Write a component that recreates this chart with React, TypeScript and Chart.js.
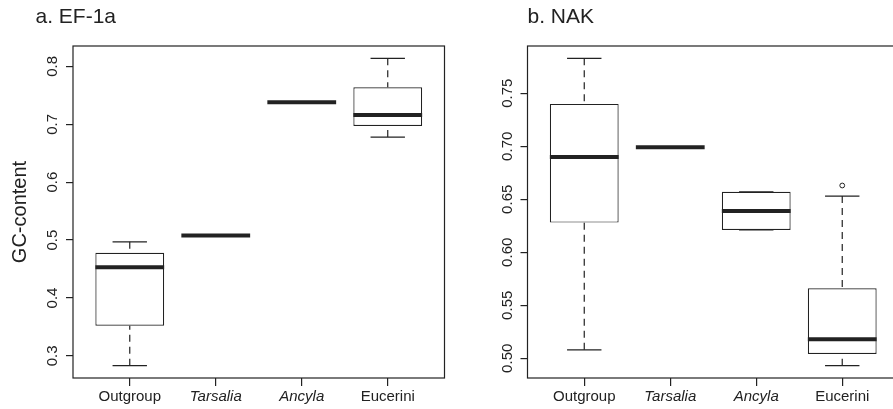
import React, { useEffect, useRef } from "react";
import { Chart, registerables } from "chart.js";

Chart.register(...registerables);

// ---------- data ----------
const categories = ["Outgroup", "Tarsalia", "Ancyla", "Eucerini"];
const italicCategories = [false, true, true, false];
const categoryPositions = [1, 2, 3, 4];

const panelTitles = ["a. EF-1a", "b. NAK"];
const yAxisTitle = "GC-content";

// a. EF-1a
const ef1aLowerWhisker = [0.283, 0.508, 0.738, 0.678];
const ef1aQ1 = [0.352, 0.508, 0.738, 0.697];
const ef1aMedian = [0.453, 0.508, 0.738, 0.716];
const ef1aQ3 = [0.478, 0.508, 0.738, 0.764];
const ef1aUpperWhisker = [0.497, 0.508, 0.738, 0.814];
const ef1aOutlierCategory: number[] = [];
const ef1aOutlierValue: number[] = [];
const ef1aYTicks = [0.3, 0.4, 0.5, 0.6, 0.7, 0.8];
const ef1aYTickLabels = ["0.3", "0.4", "0.5", "0.6", "0.7", "0.8"];

// b. NAK
const nakLowerWhisker = [0.508, 0.699, 0.621, 0.493];
const nakQ1 = [0.628, 0.699, 0.621, 0.504];
const nakMedian = [0.69, 0.699, 0.639, 0.518];
const nakQ3 = [0.74, 0.699, 0.657, 0.566];
const nakUpperWhisker = [0.783, 0.699, 0.657, 0.653];
const nakOutlierCategory = [3];
const nakOutlierValue = [0.663];
const nakYTicks = [0.5, 0.55, 0.6, 0.65, 0.7, 0.75];
const nakYTickLabels = ["0.50", "0.55", "0.60", "0.65", "0.70", "0.75"];

// ---------- style ----------
const FONT = '"Liberation Sans", Arial, Helvetica, sans-serif';
const INK = "#222222";

type Panel = {
  title: string;
  titleX: number;
  lw: number[];
  q1: number[];
  med: number[];
  q3: number[];
  uw: number[];
  outCat: number[];
  outVal: number[];
  yTicks: number[];
  yTickLabels: string[];
  yTitle: string | null;
  canvasWidth: number;
  yAxisWidth: number;
  padRight: number;
  yLabelPad: number;
};

function yRange(p: Panel) {
  const lo = Math.min(...p.lw, ...p.outVal);
  const hi = Math.max(...p.uw, ...p.outVal);
  const ext = (hi - lo) * 0.04;
  return [lo - ext, hi + ext];
}

function makePanelPlugin(p: Panel) {
  return {
    id: "rBoxplot",
    afterDatasetsDraw(chart: any) {
      const { ctx, chartArea: a, scales } = chart;
      const xs = scales.x;
      const ys = scales.y;
      const unit = xs.getPixelForValue(2) - xs.getPixelForValue(1);
      const halfBox = unit * 0.4;
      const halfCap = unit * 0.2;
      const line = (x1: number, y1: number, x2: number, y2: number) => {
        ctx.beginPath();
        ctx.moveTo(x1, y1);
        ctx.lineTo(x2, y2);
        ctx.stroke();
      };
      ctx.save();
      ctx.strokeStyle = INK;
      categoryPositions.forEach((c, i) => {
        const cx = xs.getPixelForValue(c);
        const yLW = ys.getPixelForValue(p.lw[i]);
        const yQ1 = ys.getPixelForValue(p.q1[i]);
        const yMed = ys.getPixelForValue(p.med[i]);
        const yQ3 = ys.getPixelForValue(p.q3[i]);
        const yUW = ys.getPixelForValue(p.uw[i]);
        ctx.lineWidth = 1.2;
        ctx.lineCap = "butt";
        ctx.setLineDash([7, 5]);
        if (Math.abs(yLW - yQ1) > 0.5) line(cx, yLW, cx, yQ1);
        if (Math.abs(yUW - yQ3) > 0.5) line(cx, yUW, cx, yQ3);
        ctx.setLineDash([]);
        line(cx - halfCap, yLW, cx + halfCap, yLW);
        line(cx - halfCap, yUW, cx + halfCap, yUW);
        ctx.lineWidth = 4;
        line(cx - halfBox, yMed, cx + halfBox, yMed);
      });
      ctx.lineWidth = 1.2;
      ctx.strokeRect(a.left, a.top, a.right - a.left, a.bottom - a.top);
      ctx.fillStyle = INK;
      ctx.font = `21px ${FONT}`;
      ctx.textAlign = "left";
      ctx.textBaseline = "alphabetic";
      ctx.fillText(p.title, p.titleX, 23);
      ctx.restore();
    },
  };
}

function makeConfig(p: Panel): any {
  const [yMin, yMax] = yRange(p);
  return {
    type: "bar",
    data: {
      datasets: [
        {
          type: "bar",
          data: categoryPositions.map((c, i) => ({ x: c, y: [p.q1[i], p.q3[i]] })),
          backgroundColor: "#ffffff",
          borderColor: INK,
          borderWidth: 1.2,
          borderSkipped: false,
          barPercentage: 0.8,
          categoryPercentage: 1.0,
        },
        {
          type: "scatter",
          data: p.outCat.map((c, i) => ({ x: categoryPositions[c], y: p.outVal[i] })),
          pointStyle: "circle",
          pointRadius: 2.4,
          pointBorderWidth: 1,
          pointBackgroundColor: "#ffffff",
          pointBorderColor: INK,
        },
      ],
    },
    options: {
      responsive: false,
      animation: false,
      events: [],
      layout: { padding: { left: 0, right: p.padRight, top: 46, bottom: 0 } },
      plugins: {
        legend: { display: false },
        tooltip: { enabled: false },
        title: { display: false },
      },
      scales: {
        x: {
          type: "linear",
          min: 0.34,
          max: 4.66,
          offset: false,
          border: { display: false },
          grid: {
            display: true,
            offset: false,
            drawOnChartArea: false,
            drawTicks: true,
            tickLength: 8,
            color: INK,
            lineWidth: 1.2,
          },
          ticks: {
            autoSkip: false,
            maxRotation: 0,
            minRotation: 0,
            padding: 2,
            color: INK,
            font: (ctx: any) => ({
              family: FONT,
              size: 15,
              style: italicCategories[ctx.index] ? "italic" : "normal",
            }),
            callback: (_v: any, i: number) => categories[i],
          },
          afterBuildTicks: (s: any) => {
            s.ticks = categoryPositions.map((v) => ({ value: v }));
          },
          afterFit: (s: any) => {
            s.height = 31;
          },
        },
        y: {
          type: "linear",
          min: yMin,
          max: yMax,
          border: { display: false },
          grid: {
            display: true,
            drawOnChartArea: false,
            drawTicks: true,
            tickLength: 7,
            color: INK,
            lineWidth: 1.2,
          },
          title: p.yTitle
            ? {
                display: true,
                text: p.yTitle,
                color: INK,
                font: { family: FONT, size: 20 },
                padding: { top: 8, bottom: 0 },
              }
            : { display: false },
          ticks: {
            autoSkip: false,
            minRotation: 90,
            maxRotation: 90,
            crossAlign: "center",
            padding: p.yLabelPad,
            color: INK,
            font: { family: FONT, size: 15 },
            callback: (_v: any, i: number) => p.yTickLabels[i],
          },
          afterBuildTicks: (s: any) => {
            s.ticks = p.yTicks.map((v) => ({ value: v }));
          },
          afterFit: (s: any) => {
            s.width = p.yAxisWidth;
          },
        },
      },
    },
    plugins: [makePanelPlugin(p)],
  };
}

const panelA: Panel = {
  title: panelTitles[0],
  titleX: 35.5,
  lw: ef1aLowerWhisker,
  q1: ef1aQ1,
  med: ef1aMedian,
  q3: ef1aQ3,
  uw: ef1aUpperWhisker,
  outCat: ef1aOutlierCategory,
  outVal: ef1aOutlierValue,
  yTicks: ef1aYTicks,
  yTickLabels: ef1aYTickLabels,
  yTitle: yAxisTitle,
  canvasWidth: 450,
  yAxisWidth: 73,
  padRight: 5.5,
  yLabelPad: 2.6,
};

const panelB: Panel = {
  title: panelTitles[1],
  titleX: 77.5,
  lw: nakLowerWhisker,
  q1: nakQ1,
  med: nakMedian,
  q3: nakQ3,
  uw: nakUpperWhisker,
  outCat: nakOutlierCategory,
  outVal: nakOutlierValue,
  yTicks: nakYTicks,
  yTickLabels: nakYTickLabels,
  yTitle: null,
  canvasWidth: 456,
  yAxisWidth: 77.5,
  padRight: 7,
  yLabelPad: -1.6,
};

export default function App() {
  const refA = useRef<HTMLCanvasElement | null>(null);
  const refB = useRef<HTMLCanvasElement | null>(null);

  useEffect(() => {
    const charts: Chart[] = [];
    if (refA.current) charts.push(new Chart(refA.current, makeConfig(panelA)));
    if (refB.current) charts.push(new Chart(refB.current, makeConfig(panelB)));
    return () => charts.forEach((c) => c.destroy());
  }, []);

  return (
    <div
      style={{
        position: "absolute",
        left: 0,
        top: 0,
        width: 893,
        height: 409,
        overflow: "hidden",
        background: "#ffffff",
      }}
    >
      <canvas
        ref={refA}
        width={panelA.canvasWidth}
        height={409}
        style={{ position: "absolute", left: 0, top: 0, width: panelA.canvasWidth, height: 409 }}
      />
      <canvas
        ref={refB}
        width={panelB.canvasWidth}
        height={409}
        style={{ position: "absolute", left: 450, top: 0, width: panelB.canvasWidth, height: 409 }}
      />
    </div>
  );
}
